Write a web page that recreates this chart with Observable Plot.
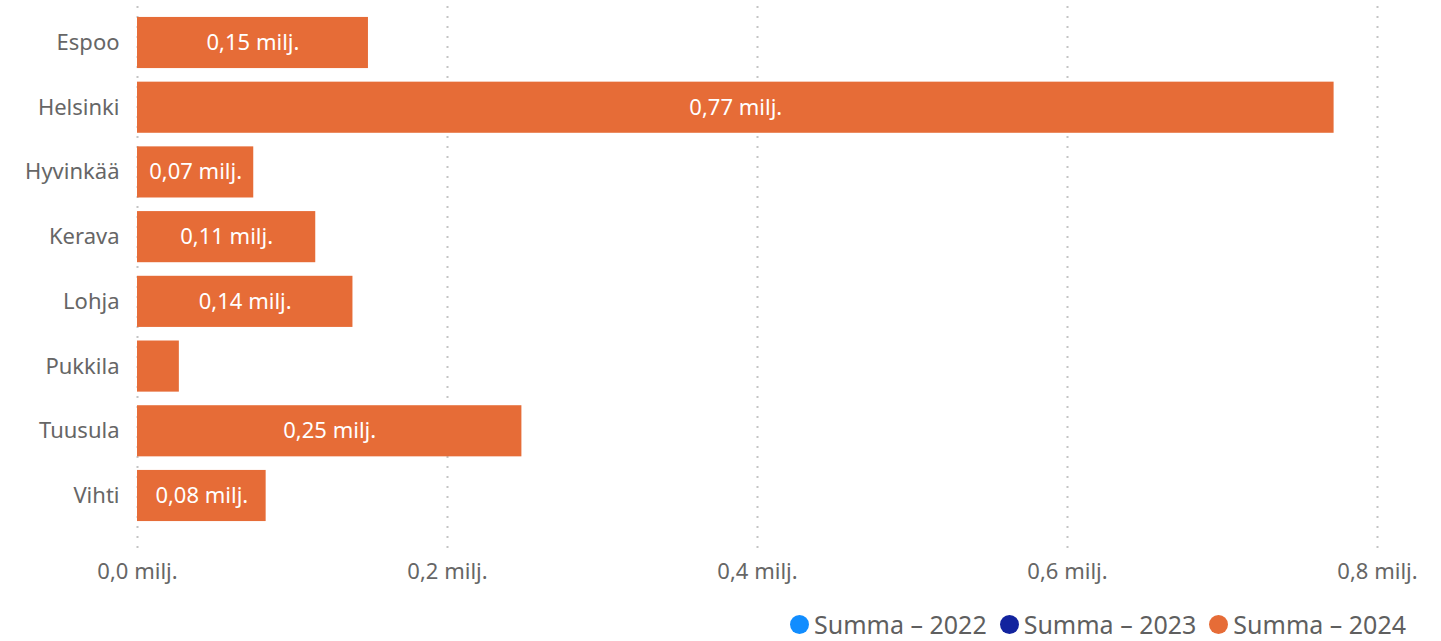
<!DOCTYPE html>
<html>
<head>
<meta charset="utf-8">
<script src="https://cdn.jsdelivr.net/npm/d3@7"></script>
<script src="https://cdn.jsdelivr.net/npm/@observablehq/plot@0.6"></script>
<style>
  html, body { margin: 0; padding: 0; background: #fff; overflow: hidden; }
  #chart { width: 1441px; }
  .legend { display: flex; justify-content: flex-end; align-items: center; height: 34px; line-height: 34px; padding-right: 35px; margin-top: 7px;
    font-family: "Noto Sans", "Open Sans", sans-serif; font-size: 25px; color: #5f5f5f; gap: 13px; }
  .legend .item { display: flex; align-items: center; }
  .legend .dot { width: 19px; height: 19px; border-radius: 50%; display: inline-block; margin-right: 5px; }
</style>
</head>
<body>
<div id="chart"></div>
<script>
const municipalities = ["Espoo", "Helsinki", "Hyvinkää", "Kerava", "Lohja", "Pukkila", "Tuusula", "Vihti"];
const values2024 = [0.149, 0.772, 0.075, 0.115, 0.139, 0.027, 0.248, 0.083];
const barLabels = ["0,15 milj.", "0,77 milj.", "0,07 milj.", "0,11 milj.", "0,14 milj.", "", "0,25 milj.", "0,08 milj."];
const xTicks = [0, 0.2, 0.4, 0.6, 0.8];
const xTickLabels = ["0,0 milj.", "0,2 milj.", "0,4 milj.", "0,6 milj.", "0,8 milj."];
const seriesNames = ["Summa – 2022", "Summa – 2023", "Summa – 2024"];
const seriesColors = ["#118DFF", "#12239E", "#E66C37"];

const data = municipalities.map((m, i) => ({name: m, value: values2024[i], label: barLabels[i]}));

const chart = Plot.plot({
  width: 1441,
  height: 600,
  marginLeft: 137,
  marginRight: 64,
  marginTop: 6,
  marginBottom: 52,
  style: {fontFamily: "'Noto Sans', 'Open Sans', sans-serif", fontSize: "22px", color: "#666", background: "#fff"},
  x: {domain: [0, 0.8], ticks: xTicks, label: null},
  y: {domain: municipalities, range: [4, 534], paddingInner: 0.21, paddingOuter: 0.2, round: false, label: null},
  marks: [
    Plot.gridX(xTicks, {stroke: "#c4c4c4", strokeOpacity: 1, strokeDasharray: "2,8", strokeWidth: 2}),
    Plot.barX(data, {y: "name", x: "value", fill: "#E66C37"}),
    Plot.text(data, {y: "name", x: d => d.value / 2, text: "label", fill: "white", fontSize: 22}),
    Plot.axisX(xTicks, {tickSize: 0, tickPadding: 15, fontSize: 22, fill: "#666", tickFormat: (d) => xTickLabels[xTicks.indexOf(d)]}),
    Plot.axisY({tickSize: 0, tickPadding: 18, fontSize: 22, fill: "#666"})
  ]
});
document.getElementById("chart").appendChild(chart);

const legend = document.createElement("div");
legend.className = "legend";
seriesNames.forEach((s, i) => {
  const item = document.createElement("span");
  item.className = "item";
  const dot = document.createElement("span");
  dot.className = "dot";
  dot.style.background = seriesColors[i];
  item.appendChild(dot);
  item.appendChild(document.createTextNode(s));
  legend.appendChild(item);
});
document.getElementById("chart").appendChild(legend);
</script>
</body>
</html>
